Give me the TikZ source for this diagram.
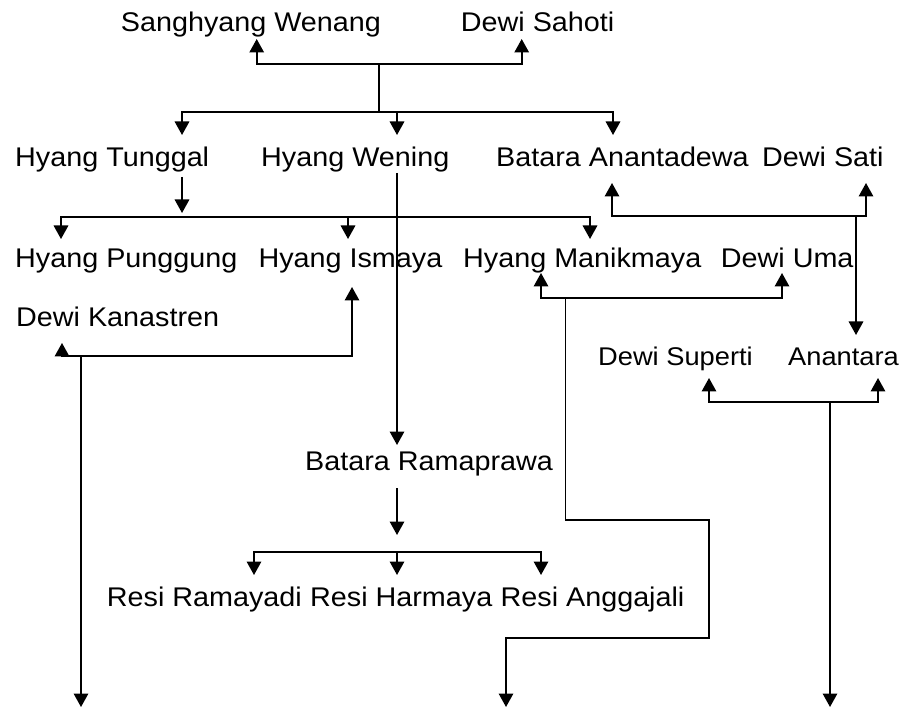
\documentclass[tikz,border=0pt]{standalone}
\usepackage{fontspec}
\setmainfont{Liberation Sans}[FakeStretch=1.065]
\usetikzlibrary{arrows.meta}
\begin{document}
\begin{tikzpicture}[x=1pt,y=-1pt,
  person/.style={anchor=base west, inner sep=0pt, font=\fontsize{27}{32}\selectfont},
  small person/.style={person, font=\fontsize{25.6}{31}\selectfont},
  link/.style={line width=1.7pt},
  arr/.style={link, -{Triangle[width=14.5pt,length=13.5pt]}},
]
\useasboundingbox (0,0) rectangle (905,708);

% names
\node[person] (sw)  at (120.7,31.7) {Sanghyang Wenang};
\node[person] (ds)  at (460.7,31.7) {Dewi Sahoti};
\node[person] (ht)  at (15,167)    {Hyang Tunggal};
\node[person] (hw)  at (261,167)   {Hyang Wening};
\node[person] (ba)  at (496,167)   {Batara Anantadewa};
\node[person] (dsa) at (762,167)   {Dewi Sati};
\node[person] (hp)  at (15,268)    {Hyang Punggung};
\node[person] (hi)  at (258.3,268) {Hyang Ismaya};
\node[person] (hm)  at (463,268)   {Hyang Manikmaya};
\node[person] (du)  at (720.7,268) {Dewi Uma};
\node[person] (dk)  at (16,327)    {Dewi Kanastren};
\node[small person] (dsu) at (598,366) {Dewi Superti};
\node[small person] (an)  at (788,366) {Anantara};
\node[person] (br)  at (305,470)   {Batara Ramaprawa};
\node[person] (rr)  at (106.7,606) {Resi Ramayadi};
\node[person] (rh)  at ([xshift=7.9pt]rr.base east) {Resi Harmaya};
\node[person] (rg)  at ([xshift=7.9pt]rh.base east) {Resi Anggajali};

% Sanghyang Wenang and Dewi Sahoti
\coordinate (swin) at (256.7,39);
\coordinate (dsin) at (521.7,39);
\coordinate (m0) at (379,64);
\coordinate (b0) at (379,111.7);
\draw[arr] (m0) -| (swin);
\draw[arr] (m0) -| (dsin);
\draw[link] (m0) -- (b0);
\coordinate (htin) at (182,135);
\coordinate (hwin) at (397,135);
\coordinate (bain) at (613,135);
\draw[arr] (b0) -| (htin);
\draw[arr] (b0) -| (hwin);
\draw[arr] (b0) -| (bain);

% children of Hyang Tunggal
\coordinate (htout) at (182,177);
\coordinate (httip) at (182,213);
\draw[arr] (htout) -- (httip);
\coordinate (b1) at (182,217);
\coordinate (hpin) at (61,239);
\coordinate (hiin) at (348,239);
\coordinate (hmin) at (590,239);
\draw[arr] (b1) -| (hpin);
\draw[arr] (b1) -| (hiin);
\draw[arr] (b1) -| (hmin);

% Hyang Wening to Batara Ramaprawa
\coordinate (hwout) at (397,173);
\coordinate (brin) at (397,445);
\draw[arr] (hwout) -- (brin);

% Batara Anantadewa and Dewi Sati
\coordinate (baup) at (612,183);
\coordinate (dsaup) at (866,183);
\coordinate (m1) at (856,216);
\draw[arr] (m1) -| (baup);
\draw[arr] (m1) -| (dsaup);
\coordinate (anin) at (856,335);
\draw[arr] (m1) -- (anin);

% Hyang Manikmaya and Dewi Uma
\coordinate (hmup) at (541,273);
\coordinate (duup) at (782,273);
\coordinate (m2) at (565.5,298);
\draw[arr] (m2) -| (hmup);
\draw[arr] (m2) -| (duup);
\coordinate (e2) at (506,707);
\draw[arr] (m2) -- (565.5,520) -- (709,520) -- (709,638) -- (506,638) -- (e2);

% Hyang Ismaya and Dewi Kanastren
\coordinate (hiup) at (352,287);
\coordinate (dkup) at (62,343);
\coordinate (m3) at (81,356);
\draw[arr] (m3) -| (hiup);
\draw[arr] (m3) -| (dkup);
\coordinate (e3) at (81,707);
\draw[arr] (m3) -- (e3);

% Dewi Superti and Anantara
\coordinate (dsuup) at (709,378);
\coordinate (anup) at (878,378);
\coordinate (m4) at (830,402);
\draw[arr] (m4) -| (dsuup);
\draw[arr] (m4) -| (anup);
\coordinate (e4) at (830,707);
\draw[arr] (m4) -- (e4);

% children of Batara Ramaprawa
\coordinate (brout) at (397,488);
\coordinate (brtip) at (397,535);
\draw[arr] (brout) -- (brtip);
\coordinate (m5) at (397,552);
\coordinate (rrin) at (254,575);
\coordinate (rhin) at (397,575);
\coordinate (rgin) at (541,575);
\draw[arr] (m5) -| (rrin);
\draw[arr] (m5) -- (rhin);
\draw[arr] (m5) -| (rgin);
\end{tikzpicture}
\end{document}
